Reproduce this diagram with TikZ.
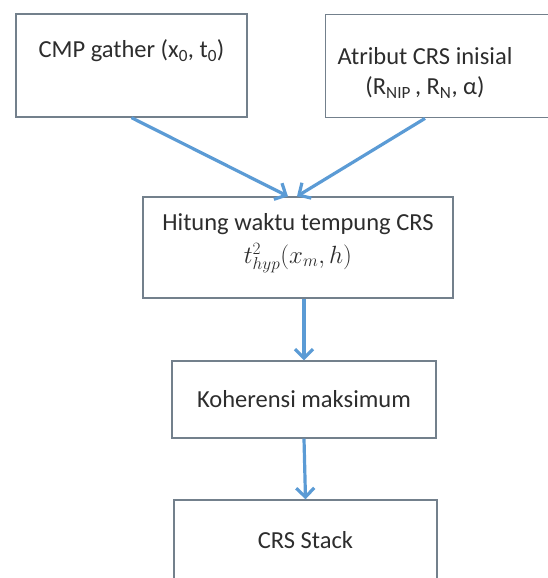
\documentclass[tikz,border=0pt]{standalone}
\usepackage{fontspec}
\setmainfont{Carlito}
\usetikzlibrary{arrows.meta,calc}

\definecolor{boxline}{RGB}{115,128,140}
\definecolor{flowblue}{RGB}{91,155,213}
\definecolor{txt}{RGB}{45,45,45}

\begin{document}
\begin{tikzpicture}[x=1pt,y=-1pt,
    box/.style={draw=boxline,line width=1.4pt,fill=white,inner sep=0pt,
      text=txt,align=center,font=\fontsize{24.5}{30}\selectfont},
    lbl/.style={text=txt,align=center,font=\fontsize{24.5}{30}\selectfont},
    flow/.style={draw=flowblue,line width=3.2pt,
      -{Straight Barb[length=9pt,width=18pt]}}]
  \useasboundingbox (0,0) rectangle (548,578);
  \clip (0,0) rectangle (548,578);

  % inputs
  \node[box,minimum width=231pt,minimum height=103pt] (gather) at (131.5,65.5)
    {CMP gather (x\textsubscript{0}, t\textsubscript{0})\\[4pt]};
  \node[box,anchor=north west,minimum width=240pt,minimum height=103pt] (atribut) at (325,14) {};
  \node[lbl] (atributtxt) at (425,73)
    {Atribut CRS inisial\\(R\textsubscript{NIP}\,, R\textsubscript{N}, α)};

  % flow
  \node[box,minimum width=310pt,minimum height=101pt] (hitung) at (298,247.5) {};
  \node[lbl] (hitungtxt) at (298,243)
    {Hitung waktu tempung CRS\\[3pt]$t^2_{hyp}(x_m, h)$};
  \node[box,minimum width=264pt,minimum height=77pt] (koherensi) at (304,399.5)
    {Koherensi maksimum};
  \node[box,minimum width=263pt,minimum height=80pt] (stack) at (305.5,540)
    {CRS Stack};

  \draw[flow] (gather.south) -- ($(hitung.north)+(-10,0)$);
  \draw[flow] (atributtxt |- atribut.south) -- ($(hitung.north)+(-1,0)$);
  \draw[flow] (koherensi.north |- hitung.south) -- (koherensi.north);
  \draw[flow] (koherensi.south) -- (stack.north);
\end{tikzpicture}
\end{document}
